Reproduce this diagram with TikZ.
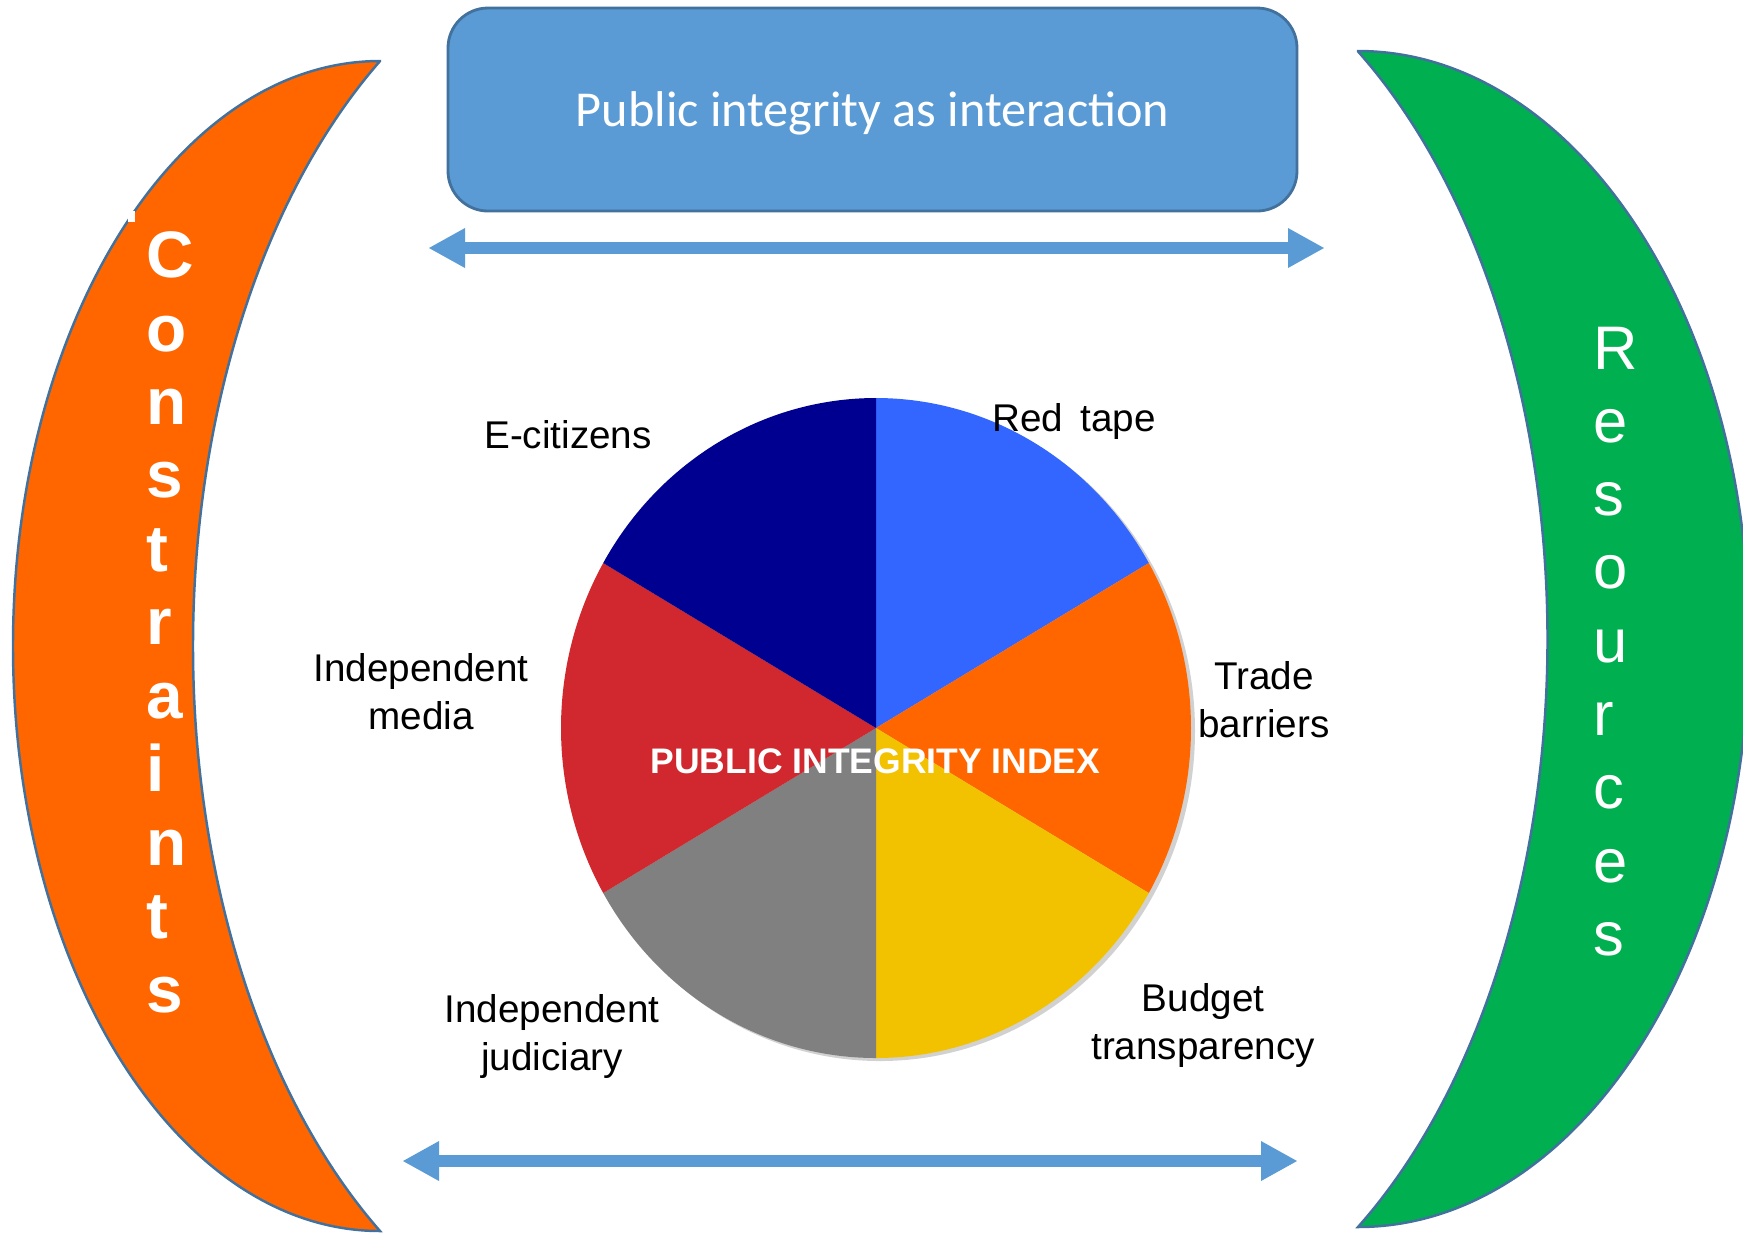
\documentclass[tikz,border=0pt]{standalone}
\usepackage{fontspec}
\setmainfont{Liberation Sans}
\newfontfamily\calibrifont{Carlito}
\usepackage{xcolor}
\usepackage{tikz}
\usetikzlibrary{arrows.meta}
\definecolor{PIBlue}{RGB}{91,155,213}
\definecolor{PIEdge}{RGB}{65,113,156}
\definecolor{PIOrange}{RGB}{255,102,0}
\definecolor{PIGreen}{RGB}{0,176,80}
\definecolor{PINavy}{RGB}{0,0,144}
\definecolor{PISky}{RGB}{51,102,255}
\definecolor{PIYellow}{RGB}{242,194,0}
\definecolor{PIGrey}{RGB}{128,128,128}
\definecolor{PIRed}{RGB}{208,40,46}
\tikzset{
    moon/.style={
        draw=PIEdge, line width=0.7pt
    },
    titlebox/.style={
        draw=PIEdge, line width=0.8pt, fill=PIBlue, rounded corners=0.4cm,
        minimum width=8.49cm, minimum height=2.03cm, text=white, text depth=0pt
    },
    dblarrow/.style={
        draw=PIBlue, line width=0.117cm,
        {Triangle[length=0.36cm, width=0.40cm, line width=0pt]}-{Triangle[length=0.36cm, width=0.40cm, line width=0pt]}
    },
    pielabel/.style={
        font=\fontsize{11}{13.7}\selectfont, inner sep=0pt, text=black
    },
    vertword/.style={
        align=left, inner sep=0pt, text=white, anchor=north west
    }
}

\begin{document}
\begin{tikzpicture}
    \useasboundingbox (0,0) rectangle (17.43,-12.34);
    \fill[white] (0,0) rectangle (17.43,-12.34);
    \clip (0,0) rectangle (17.43,-12.34);

    % 1. HAI VANH TRANG (Constraints / Resources)
    \filldraw[moon, fill=PIOrange] (3.80,-0.61)
        arc[start angle=90, end angle=270, x radius=3.67, y radius=5.85]
        arc[start angle=234.9, end angle=125.1, x radius=4.40, y radius=7.15] -- cycle;
    \fill[white] (1.275,-2.105) rectangle (1.345,-2.22);
    \filldraw[moon, fill=PIGreen] (13.58,-0.51)
        arc[start angle=90, end angle=-90, x radius=3.91, y radius=5.88]
        arc[start angle=-55.3, end angle=55.3, x radius=4.40, y radius=7.15] -- cycle;

    \node[vertword, font=\bfseries\fontsize{18.7}{20.9}\selectfont] (constr) at (1.46,-2.31)
        {C\\o\\n\\s\\t\\r\\a\\i\\n\\t\\s};
    \node[vertword, font=\fontsize{17.5}{20.85}\selectfont] (resrc) at (15.93,-3.26)
        {R\\e\\s\\o\\u\\r\\c\\e\\s};

    % 2. HOP TIEU DE + MUI TEN HAI CHIEU
    \node[titlebox, font=\calibrifont\fontsize{14.3}{17}\selectfont] (title) at (8.725,-1.095)
        {Public integrity as interaction};

    \coordinate (topL) at (4.29,-2.48);
    \coordinate (topR) at (13.24,-2.48);
    \coordinate (botL) at (4.03,-11.61);
    \coordinate (botR) at (12.97,-11.61);
    \draw[dblarrow] (topL) -- (topR);
    \draw[dblarrow] (botL) -- (botR);

    % 3. BIEU DO TRON 6 PHAN
    \coordinate (pie) at (8.76,-7.28);
    \fill[black!18] (8.80,-7.31) ellipse[x radius=3.15, y radius=3.30];
    \foreach \from/\to/\col in {90/30/PISky, 30/-30/PIOrange, -30/-90/PIYellow,
                                -90/-150/PIGrey, -150/-210/PIRed, -210/-270/PINavy}
        \fill[\col] (pie) -- ++(\from:3.15 and 3.30)
            arc[start angle=\from, end angle=\to, x radius=3.15, y radius=3.30] -- cycle;

    \node[font=\bfseries\fontsize{10.1}{12}\selectfont, text=white, inner sep=0pt, anchor=base] (pii)
        at (8.755,-7.73) {PUBLIC INTEGRITY INDEX};

    % 4. NHAN CAC PHAN
    \node[pielabel, anchor=base] (ecit) at (5.68,-4.48) {E-citizens};
    \node[pielabel, anchor=base] (redtape) at (10.74,-4.31) {Red\hspace{0.45em}tape};
    \node[pielabel, align=center, anchor=north] (trade) at (12.64,-6.61) {Trade\\barriers};
    \node[pielabel, align=center, anchor=north] (media) at (4.21,-6.53) {Independent\\media};
    \node[pielabel, align=center, anchor=north] (judic) at (5.52,-9.94) {Independent\\judiciary};
    \node[pielabel, align=center, anchor=north] (budget) at (12.03,-9.83) {Budget\\transparency};

\end{tikzpicture}
\end{document}
